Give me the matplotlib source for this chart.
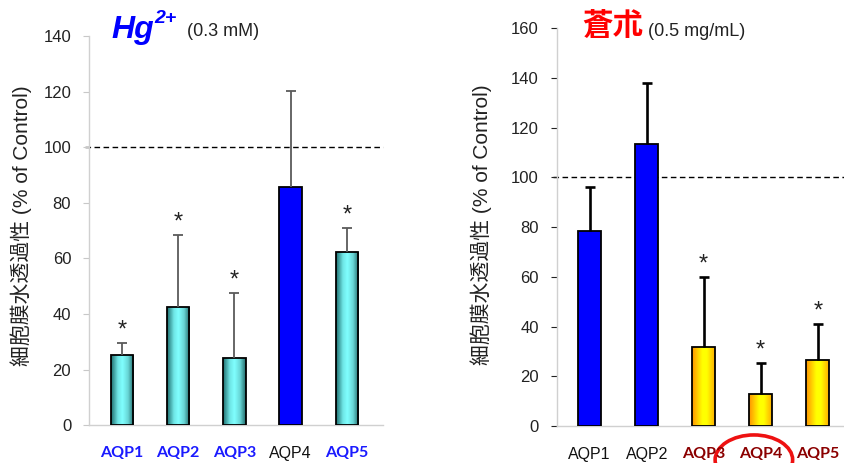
import matplotlib.pyplot as plt
import matplotlib.transforms as mtransforms
import numpy as np
from matplotlib.colors import LinearSegmentedColormap
from matplotlib.patches import Ellipse

plt.rcParams['font.family'] = ['Liberation Sans', 'Noto Sans CJK JP', 'DejaVu Sans']

CATS = ["AQP1", "AQP2", "AQP3", "AQP4", "AQP5"]

# Hg2+ (0.3 mM)
HG_VALS = [25.3, 42.7, 24.1, 85.7, 62.2]
HG_ERR = [4.3, 25.8, 23.4, 34.7, 8.7]
HG_SIG = [True, True, True, False, True]

# 蒼朮 (0.5 mg/mL)
SJ_VALS = [78.3, 113.4, 31.7, 12.7, 26.7]
SJ_ERR = [17.8, 24.7, 28.2, 12.8, 14.2]
SJ_SIG = [False, False, True, True, True]

YLABEL = "細胞膜水透過性 (% of Control)"

cyan_cmap = LinearSegmentedColormap.from_list(
    "cyan", [(0, "#1f6f6f"), (0.3, "#6fe6e6"), (0.5, "#80ffff"), (0.75, "#68d6d6"), (1, "#226a6a")])
yellow_cmap = LinearSegmentedColormap.from_list(
    "yellow", [(0, "#ff9400"), (0.45, "#ffff00"), (0.65, "#ffff00"), (1, "#ffb000")])


def gradient_bars(ax, bars, cmap):
    grad = np.linspace(0, 1, 64).reshape(1, -1)
    for b in bars:
        x0, y0 = b.get_x(), b.get_y()
        im = ax.imshow(grad, extent=[x0, x0 + b.get_width(), y0, y0 + b.get_height()],
                       aspect="auto", cmap=cmap, zorder=2, interpolation="bilinear")
        im.set_clip_path(b)


def draw_panel(ax, vals, errs, sig, fills, ylim, xlim, err_color, err_lw, tick_color):
    x = np.arange(len(CATS))
    w = 0.40
    bars = ax.bar(x, vals, width=w, facecolor="none", edgecolor="black", linewidth=1.3, zorder=3)
    for b, f in zip(bars, fills):
        if f == "blue":
            b.set_facecolor("#0000ff")
    for kind, cmap in (("cyan", cyan_cmap), ("yellow", yellow_cmap)):
        sel = [b for b, f in zip(bars, fills) if f == kind]
        gradient_bars(ax, sel, cmap)

    tops = np.array(vals) + np.array(errs)
    cap = 0.09
    ax.vlines(x, vals, tops, color=err_color, linewidth=err_lw, zorder=4)
    ax.hlines(tops, x - cap, x + cap, color=err_color, linewidth=err_lw, zorder=4)
    for xi, t, s in zip(x, tops, sig):
        if s:
            ax.annotate("*", (xi, t), xytext=(0, 1), textcoords="offset points",
                        ha="center", va="bottom", fontsize=17, color="#222222")

    ax.hlines(100, xlim[0] - 0.07, xlim[1], colors="black", linestyles=(0, (4, 2.5)),
              linewidth=1.0, zorder=1, clip_on=False)

    ax.set_xlim(*xlim)
    ax.set_ylim(*ylim)
    ax.set_xticks(x)
    ax.set_xticklabels(CATS)
    ax.tick_params(axis="x", length=0, pad=15)
    ax.tick_params(axis="y", labelsize=12, labelcolor="#222222", direction="out",
                   length=4, color=tick_color, pad=9)
    for side in ("top", "right"):
        ax.spines[side].set_visible(False)
    for side in ("left", "bottom"):
        ax.spines[side].set_color("#d0d0d0")
        ax.spines[side].set_linewidth(1.0)
    ax.set_ylabel(YLABEL, fontsize=15, color="#222222")


def style_xlabels(ax, sig, sig_color):
    for lbl, c in zip(ax.get_xticklabels(), sig):
        if c:
            lbl.set_color(sig_color)
            lbl.set_fontweight("bold")
            lbl.set_fontfamily("Lato")
            lbl.set_fontsize(11.5)
        else:
            lbl.set_color("#111111")
            lbl.set_fontsize(11.5)


fig = plt.figure(figsize=(8.44, 4.63), dpi=100)

ax1 = fig.add_axes([0.1058, 0.0814, 0.3476, 0.8408])
draw_panel(ax1, HG_VALS, HG_ERR, HG_SIG, ["cyan", "cyan", "cyan", "blue", "cyan"],
           (0, 140), (-0.58, 4.636), "#5a5a5a", 1.3, "#c8c8c8")
ax1.set_yticks(np.arange(0, 141, 20))
ax1.yaxis.set_label_coords(-0.195, 0.514)
style_xlabels(ax1, HG_SIG, "#1a1aff")

ax2 = fig.add_axes([0.6596, 0.0799, 0.3404, 0.859])
draw_panel(ax2, SJ_VALS, SJ_ERR, SJ_SIG, ["blue", "blue", "yellow", "yellow", "yellow"],
           (0, 160), (-0.579, 4.461), "black", 1.9, "#222222")
ax2.set_yticks(np.arange(0, 161, 20))
ax2.yaxis.set_label_coords(-0.226, 0.505)
style_xlabels(ax2, SJ_SIG, "#8b0000")

# red circle around AQP4 (right panel)
trans = mtransforms.blended_transform_factory(ax2.transData, ax2.transAxes)
ax2.add_patch(Ellipse((2.88, -0.085), width=1.36, height=0.125, transform=trans,
                      fill=False, edgecolor="#ee1111", linewidth=2.6, clip_on=False))

# panel titles
fig.text(0.1315, 0.918, "Hg", fontsize=23, fontweight="bold", style="italic",
         color="#0000ff", va="baseline")
fig.text(0.1825, 0.950, "2+", fontsize=14, fontweight="bold", style="italic",
         color="#0000ff", va="baseline")
fig.text(0.2215, 0.922, "(0.3 mM)", fontsize=13, color="#222222", va="baseline")

fig.text(0.6896, 0.944, "蒼朮", fontsize=22, fontweight="bold", style="italic",
         color="#ff0000", va="center", family=["Noto Sans CJK JP"])
fig.text(0.768, 0.922, "(0.5 mg/mL)", fontsize=13, color="#222222", va="baseline")

fig.savefig("out.png", dpi=100)
